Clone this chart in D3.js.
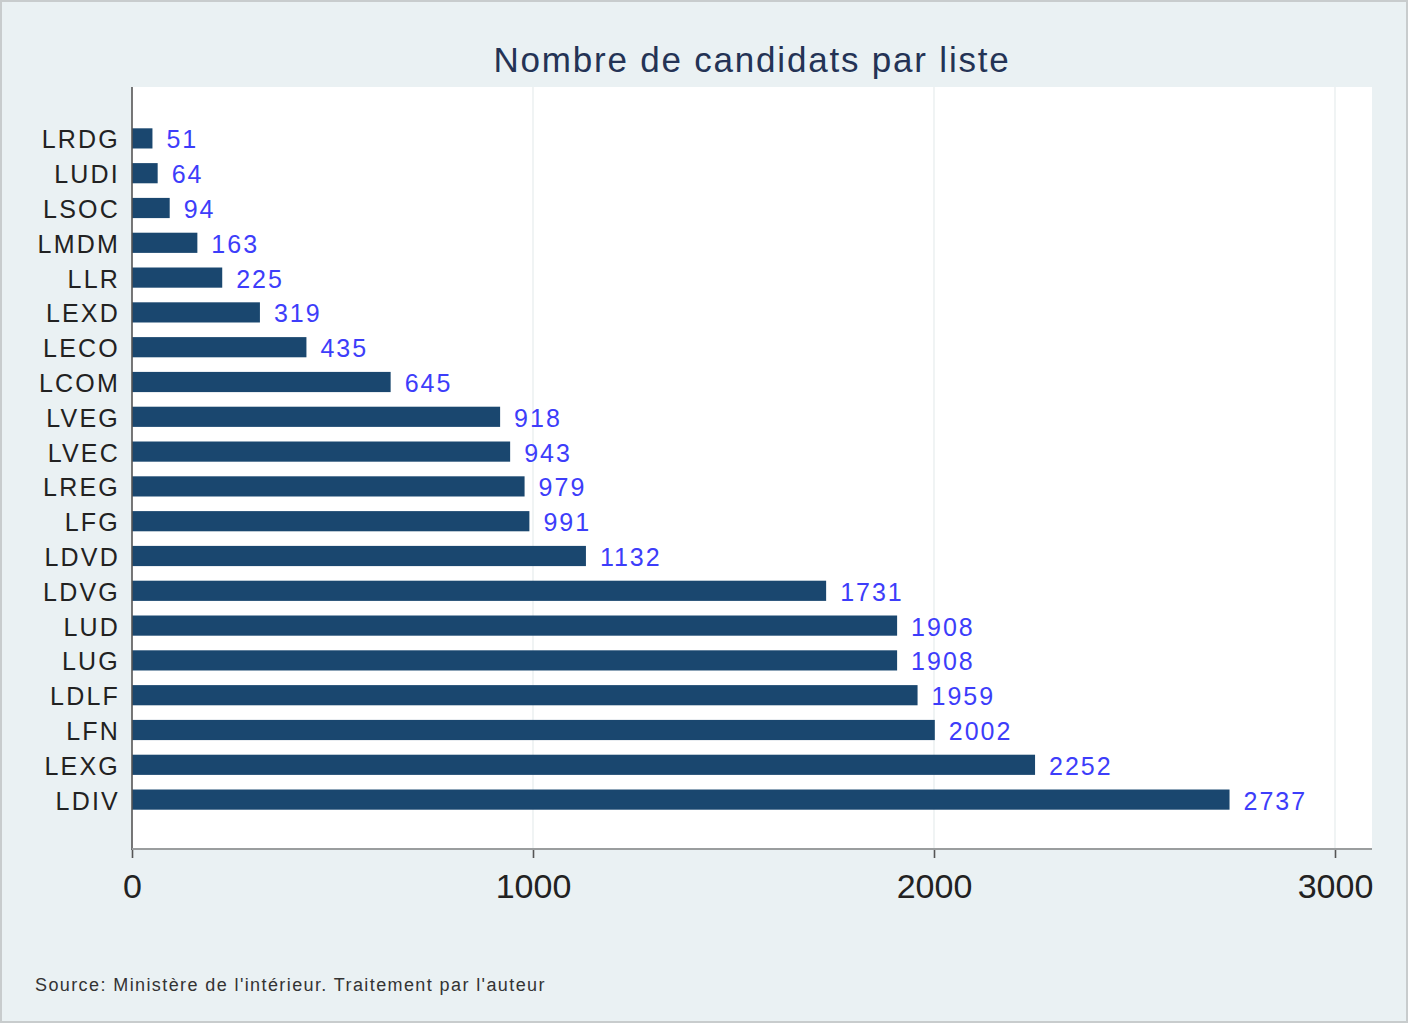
<!DOCTYPE html>
<html><head><meta charset="utf-8">
<script src="https://cdn.jsdelivr.net/npm/d3@7"></script>
<style>
html,body{margin:0;padding:0;background:#fff;}
svg{display:block;font-family:"Liberation Sans",Arial,Helvetica,sans-serif;}
</style></head>
<body>
<script>
const categories = ["LRDG","LUDI","LSOC","LMDM","LLR","LEXD","LECO","LCOM","LVEG","LVEC","LREG","LFG","LDVD","LDVG","LUD","LUG","LDLF","LFN","LEXG","LDIV"];
const values = [51,64,94,163,225,319,435,645,918,943,979,991,1132,1731,1908,1908,1959,2002,2252,2737];
const xTicks = [0,1000,2000,3000];
const title = "Nombre de candidats par liste";
const source = "Source: Ministère de l'intérieur. Traitement par l'auteur";

const W = 1409, H = 1024;
const svg = d3.select("body").append("svg").attr("width", W).attr("height", H);

// outer background + border
svg.append("rect").attr("x",1).attr("y",1).attr("width",W-3).attr("height",H-3)
  .attr("fill","#eaf1f3").attr("stroke","#c8cccd").attr("stroke-width",2);

const plot = {left:132, right:1372, top:87, bottom:850};
svg.append("rect").attr("x",plot.left).attr("y",plot.top)
  .attr("width",plot.right-plot.left).attr("height",plot.bottom-plot.top).attr("fill","#ffffff");

const x = d3.scaleLinear().domain([0,3000]).range([132,1335]);
const y = d3.scaleBand().domain(categories).range([121,817]).paddingInner(0.42).paddingOuter(0.21);

// grid
svg.append("g").selectAll("line").data(xTicks.filter(d=>d>0)).join("line")
  .attr("x1",d=>x(d)).attr("x2",d=>x(d)).attr("y1",plot.top).attr("y2",plot.bottom)
  .attr("stroke","#e6eced").attr("stroke-width",1.2);

// bars
svg.append("g").selectAll("rect").data(values).join("rect")
  .attr("x",x(0)).attr("y",(d,i)=>y(categories[i]))
  .attr("width",d=>x(d)-x(0)).attr("height",y.bandwidth())
  .attr("fill","#1a476f");

// value labels
svg.append("g").selectAll("text").data(values).join("text")
  .attr("x",d=>x(d)+14).attr("y",(d,i)=>y(categories[i])+y.bandwidth()/2+1)
  .attr("dy","0.36em").attr("font-size",25).attr("letter-spacing",2).attr("fill","#3d3dfa").text(d=>d);

// y axis
const yAxis = d3.axisLeft(y).tickSize(0).tickPadding(12);
const gy = svg.append("g").attr("transform",`translate(${plot.left},0)`).call(yAxis);
gy.select(".domain").remove();
gy.selectAll("text").attr("font-size",25).attr("letter-spacing",2.2).attr("fill","#222")
  .attr("dy","0.36em").attr("y",1)
  .attr("font-family","Liberation Sans, Arial, sans-serif");
svg.append("line").attr("x1",plot.left).attr("x2",plot.left).attr("y1",plot.top).attr("y2",plot.bottom)
  .attr("stroke","#555").attr("stroke-width",1.6);

// x axis
const xAxis = d3.axisBottom(x).tickValues(xTicks).tickSize(9).tickPadding(16).tickFormat(d3.format("d"));
const gx = svg.append("g").attr("transform",`translate(0,${plot.bottom-1})`).call(xAxis);
gx.select(".domain").remove();
gx.selectAll(".tick line").attr("stroke","#555").attr("stroke-width",1.6);
gx.selectAll("text").attr("font-size",34).attr("fill","#222").attr("font-family","Liberation Sans, Arial, sans-serif");
svg.append("line").attr("x1",plot.left).attr("x2",plot.right).attr("y1",plot.bottom-1).attr("y2",plot.bottom-1)
  .attr("stroke","#9a9d9e").attr("stroke-width",2);

// title
svg.append("text").attr("x",752).attr("y",72).attr("text-anchor","middle")
  .attr("font-size",35).attr("letter-spacing",1.8).attr("fill","#243355").text(title);

// source
svg.append("text").attr("x",35).attr("y",991).attr("font-size",18).attr("letter-spacing",1.4).attr("fill","#333").text(source);
</script>
</body></html>
